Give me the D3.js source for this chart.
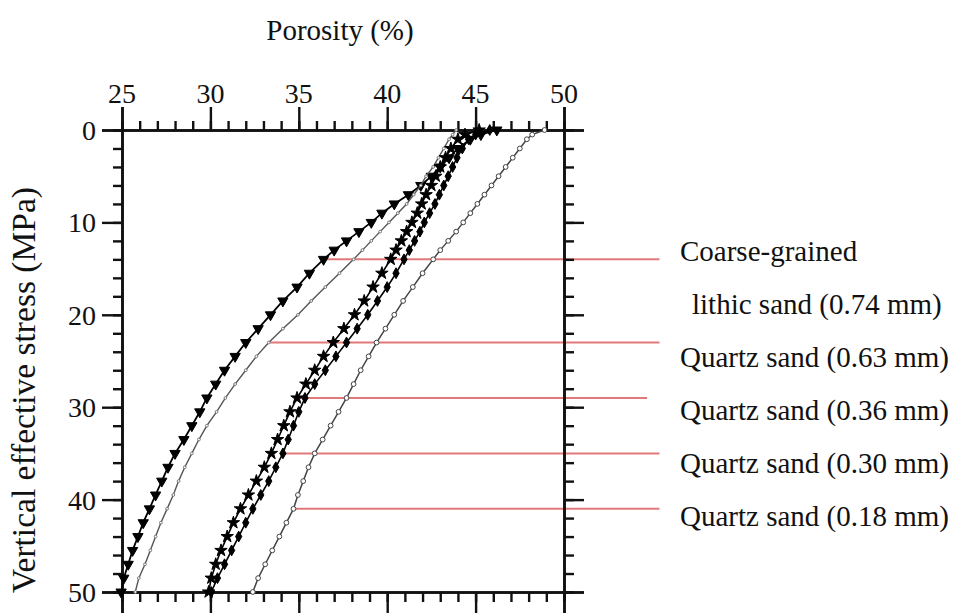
<!DOCTYPE html>
<html><head><meta charset="utf-8">
<script src="https://cdn.jsdelivr.net/npm/d3@7"></script>
<style>body{margin:0;background:#fff}svg{display:block}</style>
</head><body><svg id="c" width="958" height="613" font-family="'Liberation Serif', 'DejaVu Serif', serif"></svg>
<script>
// ---- data ----
const stress = [0,0.5,1,2,3,4,5,6,7,8,9,10,11,12,13,14,15.5,17,18.5,20,21.5,23,24.5,26,27.5,29,30.5,32,33.5,35,36.5,38,39.5,41,42.5,44,45.5,47,48.5,50];
const porLithic074 = [46.2,45.3,44.7,44.0,43.5,43.0,42.5,41.9,41.2,40.4,39.7,39.1,38.4,37.7,37.0,36.4,35.6,34.9,34.1,33.4,32.7,32.0,31.4,30.8,30.3,29.8,29.4,28.95,28.5,28.0,27.6,27.25,26.9,26.55,26.2,25.9,25.6,25.35,25.1,24.95];
const porQuartz063 = [43.9,43.7,43.5,43.2,42.9,42.6,42.2,41.9,41.5,41.1,40.6,40.1,39.6,39.1,38.6,38.1,37.3,36.5,35.7,34.95,34.1,33.3,32.6,32.0,31.4,30.85,30.35,29.8,29.35,28.95,28.55,28.2,27.9,27.55,27.2,26.9,26.6,26.3,25.95,25.75];
const porQuartz036 = [45.2,44.4,44.0,43.6,43.3,43.0,42.75,42.5,42.2,41.95,41.7,41.4,41.1,40.8,40.5,40.2,39.7,39.2,38.7,38.15,37.55,36.95,36.4,35.9,35.4,34.9,34.5,34.15,33.8,33.45,33.05,32.6,32.15,31.7,31.3,30.95,30.6,30.3,30.05,29.9];
const porQuartz030 = [45.8,45.0,44.6,44.25,43.95,43.7,43.45,43.2,42.95,42.7,42.4,42.1,41.85,41.55,41.25,40.95,40.5,40.0,39.45,38.9,38.3,37.7,37.1,36.5,35.9,35.35,35.0,34.7,34.4,34.1,33.7,33.3,32.85,32.4,32.0,31.6,31.2,30.8,30.4,30.05];
const porQuartz018 = [48.9,48.2,47.9,47.5,47.1,46.7,46.3,45.9,45.5,45.1,44.7,44.3,43.9,43.45,43.0,42.6,42.0,41.45,40.9,40.4,39.9,39.4,38.95,38.5,38.1,37.7,37.25,36.8,36.35,35.9,35.55,35.25,34.95,34.7,34.3,33.9,33.5,33.1,32.7,32.4];
const seriesNames = ["Coarse-grained lithic sand (0.74 mm)","Quartz sand (0.63 mm)","Quartz sand (0.36 mm)","Quartz sand (0.30 mm)","Quartz sand (0.18 mm)"];
const labelLines = ["Coarse-grained","lithic sand (0.74 mm)","Quartz sand (0.63 mm)","Quartz sand (0.36 mm)","Quartz sand (0.30 mm)","Quartz sand (0.18 mm)"];
const leaderStress = [14, 23, 29, 35, 41];
const leaderStartPor = [36.4, 33.3, 34.9, 34.0, 34.8];
const leaderEndPor = [55.4, 55.4, 54.7, 55.4, 55.4];
const xTicks = [25,30,35,40,45,50];
const yTicks = [0,10,20,30,40,50];

// ---- layout ----
const FONT = "'Liberation Serif', 'DejaVu Serif', serif";
const svg = d3.select("#c");
const x = d3.scaleLinear().domain([25,50]).range([122,564]);
const y = d3.scaleLinear().domain([0,50]).range([130,592]);
const xMinor = d3.range(25,50.01,1);
const yMinor = d3.range(0,50.01,2);
const AX = "#111";

// leader lines
const lg = svg.append("g");
leaderStress.forEach((s,i)=>{
  lg.append("line").attr("x1",x(leaderStartPor[i])).attr("x2",x(leaderEndPor[i]))
    .attr("y1",y(s)).attr("y2",y(s)).attr("stroke","#e07a78").attr("stroke-width",2);
});

// axes
const axTop = svg.append("g").attr("transform",`translate(0,${y(0)})`);
axTop.call(d3.axisTop(x).tickValues(xMinor).tickSize(9).tickFormat(""));
axTop.append("g").call(d3.axisTop(x).tickValues(xTicks).tickSize(23).tickFormat(""));
const axBot = svg.append("g").attr("transform",`translate(0,${y(50)})`);
axBot.call(d3.axisBottom(x).tickValues(xMinor).tickSize(10).tickFormat(""));
axBot.append("g").call(d3.axisBottom(x).tickValues(xTicks).tickSize(22).tickFormat(""));
const axLeft = svg.append("g").attr("transform",`translate(${x(25)},0)`);
axLeft.call(d3.axisLeft(y).tickValues(yMinor).tickSize(9).tickFormat(""));
axLeft.append("g").call(d3.axisLeft(y).tickValues(yTicks).tickSize(20).tickFormat(""));
const axRight = svg.append("g").attr("transform",`translate(${x(50)},0)`);
axRight.call(d3.axisRight(y).tickValues(yMinor).tickSize(10).tickFormat(""));
axRight.append("g").call(d3.axisRight(y).tickValues(yTicks).tickSize(20).tickFormat(""));
svg.selectAll(".domain").attr("stroke",AX).attr("stroke-width",2.6);
svg.selectAll(".tick line").attr("stroke",AX).attr("stroke-width",2.4);

function T(sel){ return sel.style("font-family",FONT).attr("fill","#111"); }

// tick labels
T(svg.append("g").selectAll("text").data(xTicks).join("text")
  .attr("x",d=>x(d)).attr("y",103).attr("text-anchor","middle").attr("font-size",28).text(d=>d));
T(svg.append("g").selectAll("text").data(yTicks).join("text")
  .attr("x",96).attr("y",d=>y(d)+10).attr("text-anchor","end").attr("font-size",28).text(d=>d));

// titles
T(svg.append("text").attr("x",340).attr("y",40).attr("text-anchor","middle").attr("font-size",29).text("Porosity (%)"));
T(svg.append("text").attr("transform",`translate(35,${390}) rotate(-90)`).attr("text-anchor","middle")
  .attr("font-size",33.5).text("Vertical effective stress (MPa)"));

// curves
const series = [
  {vals:porLithic074, stroke:"#000", w:1.8, sym:d3.symbolTriangle, size:46, rot:180, fill:"#000", mstroke:"#000"},
  {vals:porQuartz063, stroke:"#555", w:1.4, sym:d3.symbolCircle, size:6, rot:0, fill:"#fff", mstroke:"#777"},
  {vals:porQuartz036, stroke:"#000", w:1.6, sym:d3.symbolStar, size:48, rot:0, fill:"#000", mstroke:"#000"},
  {vals:porQuartz030, stroke:"#000", w:1.6, sym:d3.symbolDiamond, size:34, rot:0, fill:"#000", mstroke:"#000"},
  {vals:porQuartz018, stroke:"#444", w:1.5, sym:d3.symbolCircle, size:18, rot:0, fill:"#fff", mstroke:"#444"}
];
const line = d3.line().x(d=>x(d[1])).y(d=>y(d[0]));
series.forEach((s,i)=>{
  const pts = stress.map((st,j)=>[st, s.vals[j]]);
  const g = svg.append("g").attr("class","series").attr("data-name",seriesNames[i]);
  g.append("path").attr("d",line(pts)).attr("fill","none").attr("stroke",s.stroke).attr("stroke-width",s.w);
  g.selectAll("path.m").data(pts).join("path").attr("class","m")
    .attr("d",d3.symbol().type(s.sym).size(s.size))
    .attr("transform",d=>`translate(${x(d[1])},${y(d[0])}) rotate(${s.rot})`)
    .attr("fill",s.fill).attr("stroke",s.mstroke).attr("stroke-width",1);
});

// labels
T(svg.append("g").selectAll("text").data(labelLines).join("text")
  .attr("x",(d,i)=>i===1?692:680).attr("y",(d,i)=>261+i*53)
  .attr("font-size",29).text(d=>d));
</script></body></html>
